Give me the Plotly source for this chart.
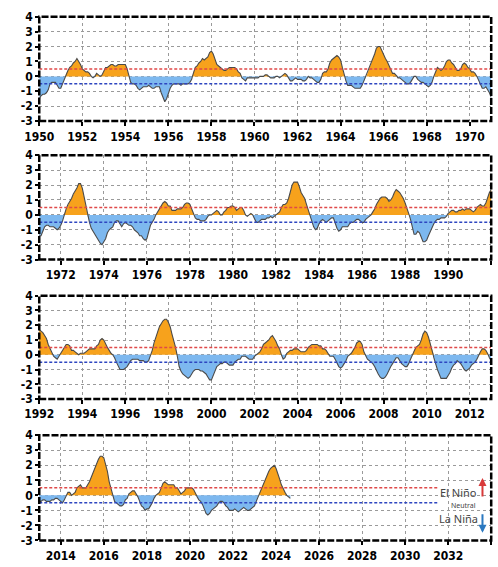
import numpy as np
import plotly.graph_objects as go

# ONI-style seasonal index values, one row per year (DJF ... NDJ)
years = list(range(1950, 2025))
oni = [
    [-1.5,-1.3,-1.2,-1.2,-1.1,-0.9,-0.5,-0.4,-0.4,-0.4,-0.6,-0.8],
    [-0.8,-0.5,-0.2,0.2,0.4,0.6,0.7,0.9,1.0,1.2,1.0,0.8],
    [0.5,0.4,0.3,0.3,0.2,0.0,-0.1,0.0,0.2,0.1,0.0,0.1],
    [0.4,0.6,0.6,0.7,0.8,0.8,0.7,0.7,0.8,0.8,0.8,0.8],
    [0.8,0.5,0.0,-0.4,-0.5,-0.5,-0.6,-0.8,-0.9,-0.8,-0.7,-0.7],
    [-0.7,-0.6,-0.7,-0.8,-0.8,-0.7,-0.7,-0.7,-1.1,-1.4,-1.7,-1.5],
    [-1.1,-0.8,-0.6,-0.5,-0.5,-0.5,-0.5,-0.6,-0.5,-0.5,-0.5,-0.5],
    [-0.4,-0.2,0.3,0.6,0.7,0.9,1.0,1.2,1.1,1.2,1.3,1.6],
    [1.7,1.5,1.2,0.8,0.7,0.6,0.5,0.4,0.4,0.5,0.6,0.6],
    [0.6,0.6,0.5,0.3,0.2,-0.1,-0.2,-0.3,-0.1,-0.1,-0.1,-0.1],
    [-0.1,-0.1,-0.1,0.0,0.0,0.0,0.1,0.1,0.0,-0.1,-0.1,-0.1],
    [0.0,0.0,-0.1,0.0,0.1,0.2,0.1,-0.1,-0.3,-0.3,-0.2,-0.1],
    [-0.2,-0.2,-0.2,-0.3,-0.3,-0.2,0.0,-0.1,-0.1,-0.2,-0.3,-0.4],
    [-0.4,-0.2,0.2,0.3,0.3,0.5,0.9,1.1,1.2,1.3,1.4,1.3],
    [1.1,0.6,0.1,-0.3,-0.6,-0.6,-0.6,-0.7,-0.8,-0.8,-0.8,-0.8],
    [-0.6,-0.3,-0.1,0.2,0.5,0.8,1.2,1.5,1.9,2.0,2.0,1.7],
    [1.4,1.2,1.0,0.7,0.4,0.2,0.2,0.1,-0.1,-0.1,-0.2,-0.3],
    [-0.4,-0.5,-0.5,-0.4,-0.2,0.0,0.0,-0.2,-0.3,-0.4,-0.4,-0.5],
    [-0.6,-0.7,-0.6,-0.4,0.0,0.3,0.6,0.5,0.4,0.5,0.7,1.0],
    [1.1,1.1,0.9,0.8,0.6,0.4,0.4,0.5,0.8,0.9,0.8,0.6],
    [0.5,0.3,0.3,0.2,0.0,-0.3,-0.6,-0.8,-0.8,-0.7,-0.9,-1.1],
    [-1.4,-1.4,-1.1,-0.8,-0.7,-0.7,-0.8,-0.8,-0.8,-0.9,-1.0,-0.9],
    [-0.7,-0.4,0.1,0.4,0.7,0.9,1.1,1.4,1.6,1.8,2.1,2.1],
    [1.8,1.2,0.5,-0.1,-0.5,-0.9,-1.1,-1.3,-1.5,-1.7,-1.9,-2.0],
    [-1.8,-1.6,-1.2,-1.0,-0.9,-0.8,-0.5,-0.4,-0.4,-0.6,-0.8,-0.6],
    [-0.5,-0.6,-0.7,-0.7,-0.8,-1.0,-1.1,-1.2,-1.4,-1.4,-1.6,-1.7],
    [-1.6,-1.2,-0.7,-0.5,-0.3,0.0,0.2,0.4,0.6,0.8,0.9,0.8],
    [0.6,0.6,0.3,0.3,0.3,0.4,0.4,0.4,0.5,0.7,0.8,0.8],
    [0.7,0.4,0.1,-0.2,-0.3,-0.3,-0.4,-0.4,-0.4,-0.3,-0.1,0.0],
    [0.0,0.1,0.2,0.3,0.2,0.0,0.0,0.2,0.3,0.5,0.5,0.6],
    [0.6,0.5,0.3,0.4,0.5,0.5,0.3,0.0,-0.1,0.0,0.1,0.0],
    [-0.3,-0.5,-0.5,-0.4,-0.3,-0.3,-0.3,-0.2,-0.2,-0.1,-0.2,-0.1],
    [0.0,0.1,0.2,0.5,0.7,0.7,0.8,1.1,1.6,2.0,2.2,2.2],
    [2.2,1.9,1.5,1.3,1.1,0.7,0.3,-0.1,-0.5,-0.8,-1.0,-0.9],
    [-0.6,-0.4,-0.3,-0.4,-0.5,-0.4,-0.3,-0.2,-0.2,-0.6,-0.9,-1.1],
    [-1.0,-0.8,-0.8,-0.8,-0.8,-0.6,-0.5,-0.5,-0.4,-0.3,-0.3,-0.4],
    [-0.5,-0.5,-0.3,-0.2,-0.1,0.0,0.2,0.4,0.7,0.9,1.1,1.2],
    [1.2,1.2,1.1,0.9,1.0,1.2,1.5,1.7,1.6,1.5,1.3,1.1],
    [0.8,0.5,0.1,-0.3,-0.9,-1.3,-1.3,-1.1,-1.2,-1.5,-1.8,-1.8],
    [-1.7,-1.4,-1.1,-0.8,-0.6,-0.4,-0.3,-0.3,-0.2,-0.2,-0.2,-0.1],
    [0.1,0.2,0.3,0.3,0.2,0.2,0.3,0.3,0.4,0.3,0.4,0.4],
    [0.4,0.3,0.2,0.3,0.5,0.6,0.7,0.6,0.6,0.8,1.2,1.5],
    [1.7,1.6,1.5,1.3,1.1,0.7,0.4,0.1,-0.1,-0.2,-0.3,-0.1],
    [0.1,0.3,0.5,0.7,0.7,0.6,0.3,0.3,0.2,0.1,0.0,0.1],
    [0.1,0.1,0.2,0.3,0.4,0.4,0.4,0.4,0.6,0.7,1.0,1.1],
    [1.0,0.7,0.5,0.3,0.1,0.0,-0.2,-0.5,-0.8,-1.0,-1.0,-1.0],
    [-0.9,-0.8,-0.6,-0.4,-0.3,-0.3,-0.3,-0.3,-0.4,-0.4,-0.4,-0.5],
    [-0.5,-0.4,-0.1,0.3,0.8,1.2,1.6,1.9,2.1,2.3,2.4,2.4],
    [2.2,1.9,1.4,1.0,0.5,-0.1,-0.8,-1.1,-1.3,-1.4,-1.5,-1.6],
    [-1.5,-1.3,-1.1,-1.0,-1.0,-1.0,-1.1,-1.1,-1.2,-1.3,-1.5,-1.7],
    [-1.7,-1.4,-1.1,-0.8,-0.7,-0.6,-0.6,-0.5,-0.5,-0.6,-0.7,-0.7],
    [-0.7,-0.5,-0.4,-0.3,-0.3,-0.1,-0.1,-0.1,-0.2,-0.3,-0.3,-0.3],
    [-0.1,0.0,0.1,0.2,0.4,0.7,0.8,0.9,1.0,1.2,1.3,1.1],
    [0.9,0.6,0.4,0.0,-0.3,-0.2,0.1,0.2,0.3,0.3,0.4,0.4],
    [0.4,0.3,0.2,0.2,0.2,0.3,0.5,0.6,0.7,0.7,0.7,0.7],
    [0.6,0.6,0.4,0.4,0.3,0.1,-0.1,-0.1,-0.1,-0.3,-0.6,-0.8],
    [-0.9,-0.8,-0.6,-0.4,-0.1,0.0,0.1,0.3,0.5,0.8,0.9,0.9],
    [0.7,0.2,-0.1,-0.3,-0.4,-0.5,-0.6,-0.8,-1.1,-1.3,-1.5,-1.6],
    [-1.6,-1.5,-1.3,-1.0,-0.8,-0.6,-0.4,-0.2,-0.2,-0.4,-0.6,-0.7],
    [-0.8,-0.8,-0.6,-0.3,0.0,0.3,0.5,0.6,0.7,1.0,1.4,1.6],
    [1.5,1.2,0.8,0.4,-0.2,-0.7,-1.0,-1.3,-1.6,-1.6,-1.6,-1.6],
    [-1.4,-1.2,-0.9,-0.7,-0.6,-0.4,-0.5,-0.6,-0.8,-1.0,-1.1,-1.0],
    [-0.9,-0.7,-0.6,-0.5,-0.3,0.0,0.2,0.4,0.4,0.3,0.1,-0.2],
    [-0.4,-0.4,-0.3,-0.3,-0.4,-0.4,-0.4,-0.3,-0.3,-0.2,-0.2,-0.3],
    [-0.4,-0.5,-0.3,0.0,0.2,0.2,0.0,0.1,0.2,0.5,0.6,0.7],
    [0.5,0.5,0.5,0.7,0.9,1.2,1.5,1.9,2.2,2.4,2.6,2.6],
    [2.5,2.1,1.6,0.9,0.4,-0.1,-0.4,-0.5,-0.6,-0.7,-0.7,-0.6],
    [-0.3,-0.2,0.1,0.2,0.3,0.3,0.1,-0.1,-0.4,-0.7,-0.8,-1.0],
    [-0.9,-0.9,-0.7,-0.5,-0.2,0.0,0.1,0.2,0.5,0.8,0.9,0.8],
    [0.7,0.7,0.7,0.7,0.5,0.5,0.3,0.1,0.2,0.3,0.5,0.5],
    [0.5,0.5,0.4,0.2,-0.1,-0.3,-0.4,-0.6,-0.9,-1.2,-1.3,-1.2],
    [-1.0,-0.9,-0.8,-0.7,-0.5,-0.4,-0.4,-0.5,-0.7,-0.8,-1.0,-1.0],
    [-1.0,-0.9,-1.0,-1.1,-1.0,-0.9,-0.8,-0.9,-1.0,-1.0,-0.9,-0.8],
    [-0.7,-0.4,-0.1,0.2,0.5,0.8,1.1,1.3,1.6,1.8,1.9,2.0],
    [1.8,1.5,1.1,0.7,0.4,0.2,0.0,-0.1,-0.2],
]

panel_starts = [1950, 1971, 1992, 2013]
panel_span = 21
el_nino_threshold = 0.5
la_nina_threshold = -0.5
y_ticks = [-3, -2, -1, 0, 1, 2, 3, 4]

W, H = 498, 567
X_LEFT, X_RIGHT = 25, 491
panel_px = [(10, 117), (152, 259), (296, 402), (439, 547)]

ORANGE = "#F7A21C"
BLUE = "#7DB8EF"
LINE = "#4a4a4a"
RED = "#E04848"
DBLUE = "#2E46C0"

# flatten time series
t = []
v = []
for yr, row in zip(years, oni):
    for i, val in enumerate(row):
        t.append(yr + i / 12.0)
        v.append(val)
t = np.array(t)
v = np.array(v)

# insert zero crossings so fills split cleanly
tx, vx = [t[0]], [v[0]]
for k in range(1, len(t)):
    a, b = v[k - 1], v[k]
    if a * b < 0:
        tc = t[k - 1] + (t[k] - t[k - 1]) * (a / (a - b))
        tx.append(tc)
        vx.append(0.0)
    tx.append(t[k])
    vx.append(v[k])
tx = np.array(tx)
vx = np.array(vx)

fig = go.Figure()
tick_font = dict(family="Liberation Sans Narrow, DejaVu Sans Condensed, Arial", size=12, color="black", weight="bold")

for p, start in enumerate(panel_starts):
    idx = "" if p == 0 else str(p + 1)
    xa, ya = "x" + idx, "y" + idx
    m = (tx >= start - 0.2) & (tx <= start + panel_span + 0.2)
    xs, ys = tx[m], vx[m]
    fig.add_trace(go.Scatter(x=xs, y=np.maximum(ys, 0), mode="lines", line=dict(width=0, color=ORANGE),
                             fill="tozeroy", fillcolor=ORANGE, xaxis=xa, yaxis=ya, showlegend=False, hoverinfo="skip"))
    fig.add_trace(go.Scatter(x=xs, y=np.minimum(ys, 0), mode="lines", line=dict(width=0, color=BLUE),
                             fill="tozeroy", fillcolor=BLUE, xaxis=xa, yaxis=ya, showlegend=False, hoverinfo="skip"))
    fig.add_trace(go.Scatter(x=xs, y=ys, mode="lines", line=dict(width=1.1, color=LINE),
                             xaxis=xa, yaxis=ya, showlegend=False))

    top, bot = panel_px[p]
    xticks = [yr for yr in range(start, start + panel_span + 1) if yr % 2 == 0]
    fig.layout["xaxis" + idx] = dict(
        domain=[X_LEFT / W, X_RIGHT / W], anchor=ya, range=[start, start + panel_span],
        tickvals=xticks, ticktext=[str(x) for x in xticks], tickfont=tick_font,
        showgrid=True, gridcolor="#9a9a9a", griddash="dot", gridwidth=1,
        ticks="outside", ticklen=4, tickwidth=2, tickcolor="black",
        showline=False, zeroline=False, fixedrange=True)
    fig.layout["yaxis" + idx] = dict(
        domain=[1 - bot / H, 1 - top / H], anchor=xa, range=[-3, 4],
        tickvals=y_ticks, ticktext=[str(y) for y in y_ticks], tickfont=tick_font,
        showgrid=True, gridcolor="#9a9a9a", griddash="dot", gridwidth=1,
        ticks="outside", ticklen=3, tickwidth=2, tickcolor="black",
        showline=False, zeroline=False, fixedrange=True)

    x_end = start + panel_span if p < 3 else 2031.5
    for yv, col in [(el_nino_threshold, RED), (la_nina_threshold, DBLUE)]:
        fig.add_shape(type="line", xref=xa, yref=ya, x0=start, x1=x_end, y0=yv, y1=yv,
                      line=dict(color=col, width=1.5, dash="3px,2px"))
    fig.add_shape(type="rect", xref=xa + " domain", yref=ya + " domain", x0=0, x1=1, y0=0, y1=1,
                  line=dict(color="black", width=2.5, dash="7px,2px"))

# legend annotations in last panel
def px(xp, yp):
    return xp / W, 1 - yp / H

for text, (xp, yp), size in [("El Niño", (457, 498), 11), ("Neutral", (462, 511), 7), ("La Niña", (457, 524), 11)]:
    xx, yy = px(xp, yp)
    fig.add_annotation(x=xx, y=yy, xref="paper", yref="paper", text=text, showarrow=False,
                       font=dict(family="Noto Sans, DejaVu Sans", size=size, color="#444444"),
                       xanchor="center", yanchor="middle")

for (tip, tail, col) in [((482, 483), (482, 503), "#D83A3A"), ((482, 539), (482, 519), "#2A78C0")]:
    xx, yy = px(*tip)
    fig.add_annotation(x=xx, y=yy, xref="paper", yref="paper", text="", showarrow=True,
                       ax=tail[0] - tip[0], ay=tail[1] - tip[1], axref="pixel", ayref="pixel",
                       arrowhead=2, arrowsize=0.8, arrowwidth=2, arrowcolor=col)

fig.update_layout(width=W, height=H, margin=dict(l=0, r=0, t=0, b=0),
                  paper_bgcolor="white", plot_bgcolor="white", showlegend=False)

fig.write_html("out.html")
